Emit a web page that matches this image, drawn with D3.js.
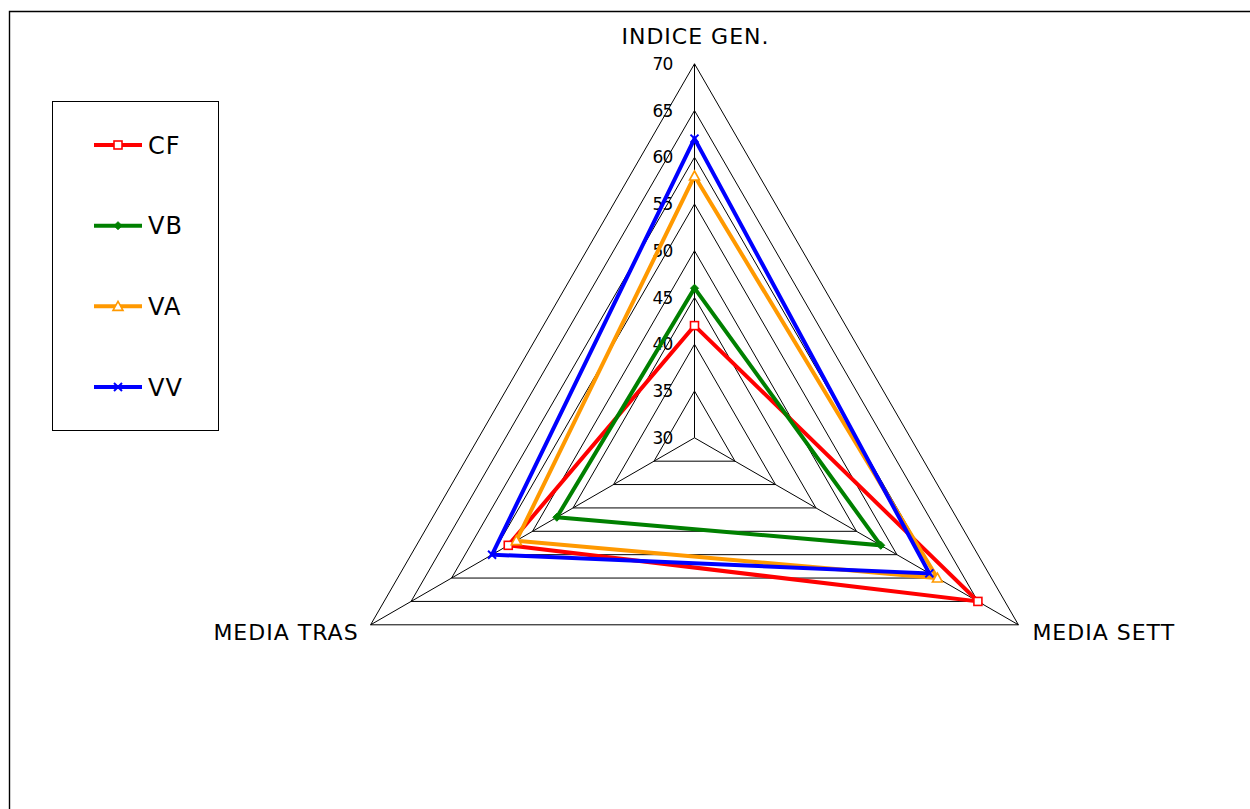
<!DOCTYPE html>
<html>
<head>
<meta charset="utf-8">
<script src="https://cdn.jsdelivr.net/npm/d3@7"></script>
<style>
  html, body { margin: 0; padding: 0; background: #fff; overflow: hidden; }
  svg { display: block; font-family: "DejaVu Sans", Verdana, sans-serif; }
</style>
</head>
<body>
<svg id="chart" width="1250" height="809"></svg>
<script>
// Axes of the radar (clockwise from the top)
const categories = ["INDICE GEN.", "MEDIA SETT", "MEDIA TRAS"];
// Radial scale ticks
const tickValues = [30, 35, 40, 45, 50, 55, 60, 65, 70];
// Series, one value per axis
const seriesNames = ["CF", "VB", "VA", "VV"];
const valuesCF = [42, 65, 53];
const valuesVB = [46, 53, 47];
const valuesVA = [58, 60, 52];
const valuesVV = [62, 59, 55];
const seriesColors = ["#ff0000", "#008000", "#ff9900", "#0000ff"];
const seriesMarkers = ["square", "diamond", "triangle", "x"];

const series = seriesNames.map((name, i) => ({
  name,
  values: [valuesCF, valuesVB, valuesVA, valuesVV][i],
  color: seriesColors[i],
  marker: seriesMarkers[i]
}));

const svg = d3.select("#chart");

// outer chart frame (runs off the right and bottom edges)
svg.append("path")
  .attr("d", "M9.5,1200V11.5H1400")
  .attr("fill", "none").attr("stroke", "#000").attr("stroke-width", 1.4);

const cx = 694.5, cy = 437.8, R = 374;
const r = d3.scaleLinear().domain([30, 70]).range([0, R]);
// three axes 120 degrees apart, the first pointing straight up
const angleOf = i => (-90 + i * 360 / categories.length) * Math.PI / 180;
const pt = (v, i) => [cx + r(v) * Math.cos(angleOf(i)), cy + r(v) * Math.sin(angleOf(i))];

const grid = svg.append("g");
// concentric triangles
tickValues.filter(t => t > 30).forEach(t => {
  grid.append("path")
    .attr("d", d3.line()(categories.map((c, i) => pt(t, i))) + "Z")
    .attr("fill", "none").attr("stroke", "#000").attr("stroke-width", 1);
});
// spokes
categories.forEach((c, i) => {
  const [x, y] = pt(70, i);
  grid.append("line")
    .attr("x1", cx).attr("y1", cy).attr("x2", x).attr("y2", y)
    .attr("stroke", "#000").attr("stroke-width", 1);
});

// tick labels along the top spoke
svg.append("g").selectAll("text").data(tickValues).join("text")
  .attr("x", cx - 22)
  .attr("y", d => cy - r(d))
  .attr("dy", "0.36em")
  .attr("text-anchor", "end")
  .attr("font-size", 17)
  .attr("letter-spacing", -0.8)
  .attr("fill", "#000")
  .text(d => d);

// axis labels
const catLabel = svg.append("g").attr("font-size", 22).attr("letter-spacing", 1).attr("fill", "#000");
catLabel.append("text").attr("x", cx + 1).attr("y", 44).attr("text-anchor", "middle").text(categories[0]);
catLabel.append("text").attr("x", pt(70, 1)[0] + 14).attr("y", 640).attr("text-anchor", "start").text(categories[1]);
catLabel.append("text").attr("x", pt(70, 2)[0] - 12).attr("y", 640).attr("text-anchor", "end").text(categories[2]);

// marker shapes
function drawMarker(g, type, x, y, color) {
  if (type === "square") {
    g.append("rect").attr("x", x - 4).attr("y", y - 4).attr("width", 8).attr("height", 8)
      .attr("fill", "#fff").attr("stroke", color).attr("stroke-width", 1.6);
  } else if (type === "diamond") {
    g.append("path").attr("d", `M${x},${y - 4}L${x + 4},${y}L${x},${y + 4}L${x - 4},${y}Z`)
      .attr("fill", color).attr("stroke", color).attr("stroke-width", 1);
  } else if (type === "triangle") {
    g.append("path").attr("d", `M${x},${y - 5}L${x + 5},${y + 4}L${x - 5},${y + 4}Z`)
      .attr("fill", "#fff").attr("stroke", color).attr("stroke-width", 1.6);
  } else if (type === "x") {
    g.append("path").attr("d", `M${x - 4},${y - 4}L${x + 4},${y + 4}M${x + 4},${y - 4}L${x - 4},${y + 4}`)
      .attr("fill", "none").attr("stroke", color).attr("stroke-width", 2);
  }
}

// series polygons
const plot = svg.append("g");
series.forEach(s => {
  const pts = s.values.map((v, i) => pt(v, i));
  plot.append("path")
    .attr("d", d3.line()(pts) + "Z")
    .attr("fill", "none").attr("stroke", s.color).attr("stroke-width", 4)
    .attr("stroke-linejoin", "miter");
  pts.forEach(([x, y]) => drawMarker(plot, s.marker, x, y, s.color));
});

// legend
const legend = svg.append("g");
legend.append("rect")
  .attr("x", 52.5).attr("y", 101.5).attr("width", 166).attr("height", 329)
  .attr("fill", "#fff").attr("stroke", "#000").attr("stroke-width", 1);
const rowY = d3.scalePoint().domain(seriesNames).range([145, 387]);
series.forEach(s => {
  const y = rowY(s.name);
  legend.append("line").attr("x1", 94).attr("x2", 142).attr("y1", y).attr("y2", y)
    .attr("stroke", s.color).attr("stroke-width", 4);
  drawMarker(legend, s.marker, 118, y, s.color);
  legend.append("text").attr("x", 148).attr("y", y).attr("dy", "0.36em")
    .attr("font-size", 24).attr("letter-spacing", 1).attr("fill", "#000").text(s.name);
});
</script>
</body>
</html>
